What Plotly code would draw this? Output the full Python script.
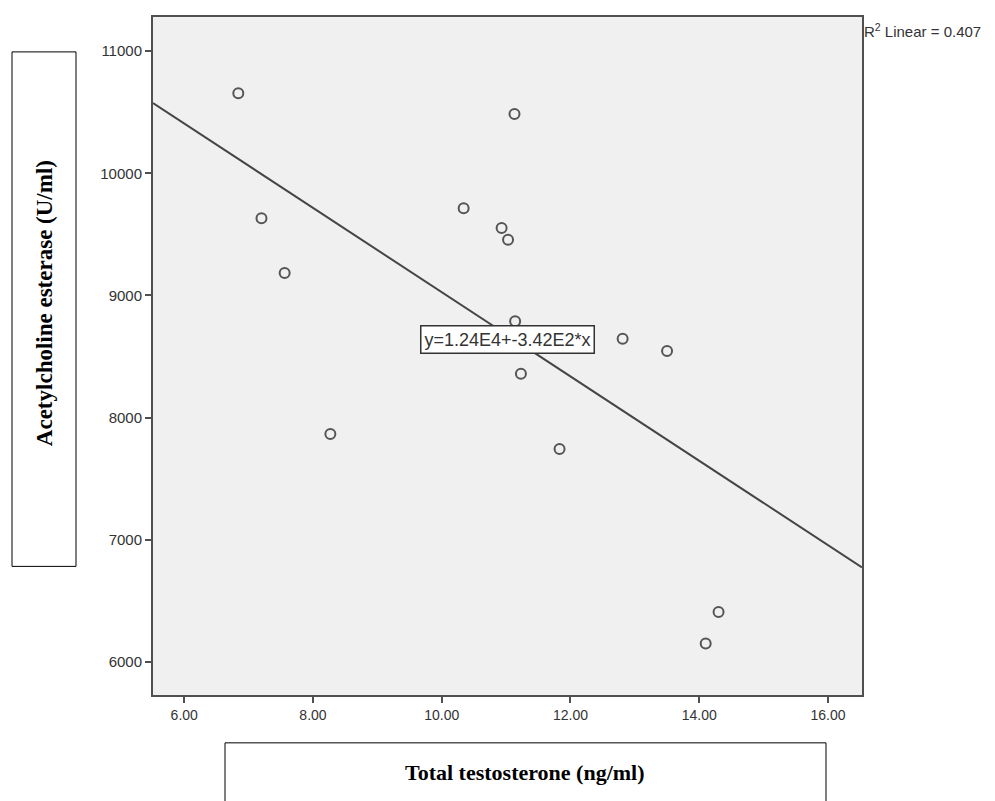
import numpy as np
import plotly.graph_objects as go

# Data
testosterone = [6.84, 7.20, 7.56, 8.27, 10.34, 10.93, 11.03, 11.13, 11.14, 11.23, 11.83, 12.81, 13.50, 14.30, 14.10]
ache = [10655, 9633, 9184, 7865, 9715, 9552, 9457, 10486, 8790, 8360, 7743, 8646, 8545, 6409, 6151]
x_ticks = [6, 8, 10, 12, 14, 16]
y_ticks = [6000, 7000, 8000, 9000, 10000, 11000]
x_range = [5.515, 16.528]
y_range = [5729, 11280]
r2_text = "R<sup>2</sup> Linear = 0.407"
eq_text = "y=1.24E4+-3.42E2*x"
x_title = "<b>Total testosterone (ng/ml)</b>"
y_title = "<b>Acetylcholine esterase (U/ml)</b>"

slope, intercept = np.polyfit(testosterone, ache, 1)
line_x = np.array(x_range)
line_y = intercept + slope * line_x

# Plot area in page pixels (page has an 8px body margin)
PL, PR, PT, PB = 153, 862, 15, 695
PW, PH = PR - PL, PB - PT
OFF = 8


def px(xp):
    return (xp - PL) / PW


def py(yp):
    return (PB - yp) / PH


fig = go.Figure()
fig.add_trace(go.Scatter(x=line_x, y=line_y, mode="lines",
                         line=dict(color="#454545", width=2), hoverinfo="skip", showlegend=False))
fig.add_trace(go.Scatter(x=testosterone, y=ache, mode="markers",
                         marker=dict(symbol="circle-open", size=10, color="#555555", line=dict(width=2)),
                         showlegend=False))

axis_common = dict(showgrid=False, zeroline=False, showline=True, mirror=True,
                   linecolor="#505050", linewidth=2, ticks="outside", ticklen=6, tickwidth=2,
                   tickcolor="#505050")

fig.update_xaxes(range=x_range, tickvals=x_ticks, tickformat=".2f",
                 tickfont=dict(family="Liberation Sans, Arial", size=14, color="#333333"), **axis_common)
fig.update_yaxes(range=y_range, tickvals=y_ticks, tickformat="d",
                 tickfont=dict(family="Liberation Sans, Arial", size=15, color="#333333"), **axis_common)

W, H = 987, 793
fig.update_layout(
    width=W, height=H,
    margin=dict(l=PL - OFF, r=W - (PR - OFF), t=PT - OFF, b=H - (PB - OFF)),
    paper_bgcolor="white", plot_bgcolor="#f0f0f0",
    font=dict(family="Liberation Sans, Arial"),
)

# Y-axis title box
fig.add_shape(type="rect", xref="paper", yref="paper",
              x0=px(12), x1=px(76), y0=py(566), y1=py(50),
              line=dict(color="black", width=1), fillcolor="white")
fig.add_annotation(xref="paper", yref="paper", x=px(44), y=py(302),
                   xanchor="center", yanchor="middle",
                   text=y_title, showarrow=False, textangle=-90,
                   font=dict(family="Liberation Serif, Times New Roman", size=23, color="black"))

# X-axis title box
fig.add_shape(type="rect", xref="paper", yref="paper",
              x0=px(225), x1=px(826), y0=py(810), y1=py(743),
              line=dict(color="black", width=1), fillcolor="white")
fig.add_annotation(xref="paper", yref="paper", x=px(525), y=py(773),
                   xanchor="center", yanchor="middle",
                   text=x_title, showarrow=False,
                   font=dict(family="Liberation Serif, Times New Roman", size=22, color="black"))

# Equation label
fig.add_annotation(xref="paper", yref="paper", x=px(507), y=py(338),
                   xanchor="center", yanchor="middle",
                   text=eq_text, showarrow=False, bgcolor="white", bordercolor="#333333",
                   borderwidth=1.5, borderpad=3,
                   font=dict(family="Liberation Sans, Arial", size=18, color="#333333"))

# R^2 label
fig.add_annotation(xref="paper", yref="paper", x=px(862), y=py(29),
                   xanchor="left", yanchor="middle", text=r2_text, showarrow=False,
                   font=dict(family="Liberation Sans, Arial", size=15, color="#333333"))

fig.write_html("out.html")
